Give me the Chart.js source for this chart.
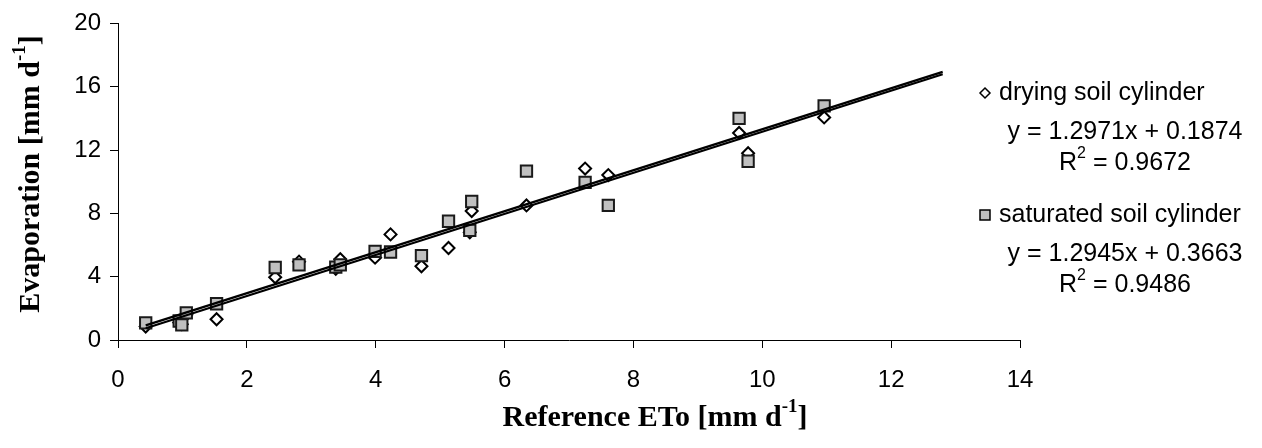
<!DOCTYPE html>
<html>
<head>
<meta charset="utf-8">
<script src="https://cdn.jsdelivr.net/npm/chart.js@4.4.1/dist/chart.umd.min.js"></script>
<style>
  html, body { margin: 0; padding: 0; background: #fff; }
</style>
</head>
<body>
<canvas id="etChart" width="1262" height="448"></canvas>
<script>
const etoDrying = [0.43, 0.95, 0.99, 1.06, 1.53, 2.44, 2.81, 3.38, 3.45, 3.99, 4.23, 4.71, 5.13, 5.46, 5.49, 6.34, 7.25, 7.61, 9.64, 9.78, 10.96];
const evapDrying = [0.85, 1.1, 1.0, 1.6, 1.31, 3.96, 4.95, 4.5, 5.1, 5.2, 6.67, 4.66, 5.81, 6.8, 8.15, 8.5, 10.83, 10.42, 13.08, 11.8, 14.06];

const etoSaturated = [0.43, 0.95, 0.99, 1.06, 1.53, 2.44, 2.81, 3.38, 3.45, 3.99, 4.23, 4.71, 5.13, 5.46, 5.49, 6.34, 7.25, 7.61, 9.64, 9.78, 10.96];
const evapSaturated = [1.08, 1.2, 0.95, 1.71, 2.29, 4.58, 4.75, 4.6, 4.75, 5.6, 5.56, 5.33, 7.5, 6.92, 8.75, 10.67, 9.96, 8.5, 14.0, 11.29, 14.79];

const seriesNames = ['drying soil cylinder', 'saturated soil cylinder'];
const fitSlopes = [1.2971, 1.2945];
const fitIntercepts = [0.1874, 0.3663];
const fitR2 = ['0.9672', '0.9486'];
const fitRange = [0.43, 12.8];

const xTicks = [0, 14, 2];   // min, max, step
const yTicks = [0, 20, 4];

const sansFont = '"Liberation Sans", Arial, sans-serif';
const serifFont = '"Liberation Serif", "Times New Roman", serif';

function toPoints(xs, ys) {
    return xs.map((x, i) => ({ x: x, y: ys[i] }));
}

function fitLine(k) {
    return fitRange.map(x => ({ x: x, y: fitSlopes[k] * x + fitIntercepts[k] }));
}

// text with superscript parts: parts = [[text, isSup, weight, family], ...]
function drawRich(ctx, parts, x, y, align, size) {
    const supSize = Math.round(size * 0.62);
    let total = 0;
    parts.forEach(p => {
        ctx.font = (p[2] || '') + (p[1] ? supSize : size) + 'px ' + (p[3] || sansFont);
        total += ctx.measureText(p[0]).width;
    });
    let cx = x;
    if (align === 'center') cx = x - total / 2;
    if (align === 'right') cx = x - total;
    ctx.textAlign = 'left';
    parts.forEach(p => {
        ctx.font = (p[2] || '') + (p[1] ? supSize : size) + 'px ' + (p[3] || sansFont);
        ctx.fillText(p[0], cx, p[1] ? y - size * 0.36 : y);
        cx += ctx.measureText(p[0]).width;
    });
}

const extrasPlugin = {
    id: 'extras',
    afterDraw(chart) {
        const ctx = chart.ctx;
        ctx.save();
        ctx.fillStyle = '#000';
        ctx.textBaseline = 'middle';

        // axis titles
        drawRich(ctx, [['Reference ETo [mm d', false, 'bold ', serifFont], ['-1', true, 'bold ', serifFont], [']', false, 'bold ', serifFont]], 655, 418, 'center', 30);
        ctx.save();
        ctx.translate(31, 174);
        ctx.rotate(-Math.PI / 2);
        drawRich(ctx, [['Evaporation [mm d', false, 'bold ', serifFont], ['-1', true, 'bold ', serifFont], [']', false, 'bold ', serifFont]], 0, 0, 'center', 30);
        ctx.restore();

        // legend with trend equations
        const rows = [93, 215];
        rows.forEach((ry, k) => {
            ctx.lineWidth = 1.5;
            ctx.strokeStyle = '#000';
            if (k === 0) {
                ctx.beginPath();
                ctx.moveTo(985, ry - 5);
                ctx.lineTo(990, ry);
                ctx.lineTo(985, ry + 5);
                ctx.lineTo(980, ry);
                ctx.closePath();
                ctx.fillStyle = '#fff';
                ctx.fill();
                ctx.stroke();
            } else {
                ctx.fillStyle = '#c0c0c0';
                ctx.fillRect(980, ry - 5, 10, 10);
                ctx.strokeRect(980, ry - 5, 10, 10);
            }
            ctx.fillStyle = '#000';
            drawRich(ctx, [[seriesNames[k], false]], 999, ry, 'left', 25);
            drawRich(ctx, [['y = ' + fitSlopes[k].toFixed(4) + 'x + ' + fitIntercepts[k].toFixed(4), false]], 1125, ry + 39, 'center', 25);
            drawRich(ctx, [['R', false], ['2', true], [' = ' + fitR2[k], false]], 1125, ry + 70, 'center', 25);
        });
        ctx.restore();
    }
};

const ctx = document.getElementById('etChart').getContext('2d');
new Chart(ctx, {
    type: 'scatter',
    data: {
        datasets: [
            {
                label: 'fit drying',
                data: fitLine(0),
                showLine: true,
                borderColor: '#000',
                borderWidth: 2.2,
                pointRadius: 0,
                order: 0
            },
            {
                label: 'fit saturated',
                data: fitLine(1),
                showLine: true,
                borderColor: '#000',
                borderWidth: 2.2,
                pointRadius: 0,
                order: 0
            },
            {
                label: seriesNames[1],
                data: toPoints(etoSaturated, evapSaturated),
                pointStyle: 'rect',
                pointRadius: 8,
                backgroundColor: '#c0c0c0',
                borderColor: '#1a1a1a',
                borderWidth: 2,
                order: 1
            },
            {
                label: seriesNames[0],
                data: toPoints(etoDrying, evapDrying),
                pointStyle: 'rectRot',
                pointRadius: 6,
                backgroundColor: '#fff',
                borderColor: '#000',
                borderWidth: 2,
                order: 2
            }
        ]
    },
    options: {
        responsive: false,
        animation: false,
        events: [],
        layout: {
            padding: { top: 20, right: 242, left: 0, bottom: 0 }
        },
        scales: {
            x: {
                type: 'linear',
                min: xTicks[0],
                max: xTicks[1],
                ticks: {
                    stepSize: xTicks[2],
                    color: '#000',
                    padding: 18,
                    font: { family: sansFont, size: 24 }
                },
                grid: { drawOnChartArea: false, tickLength: 8, color: '#000' },
                border: { color: '#000', width: 1 },
                afterFit: scale => { scale.height = 108; }
            },
            y: {
                min: yTicks[0],
                max: yTicks[1],
                ticks: {
                    stepSize: yTicks[2],
                    color: '#000',
                    padding: 9,
                    font: { family: sansFont, size: 24 }
                },
                grid: { drawOnChartArea: false, tickLength: 8, color: '#000' },
                border: { color: '#000', width: 1 },
                afterFit: scale => { scale.width = 118; }
            }
        },
        plugins: {
            legend: { display: false },
            tooltip: { enabled: false }
        }
    },
    plugins: [extrasPlugin]
});
</script>
</body>
</html>
